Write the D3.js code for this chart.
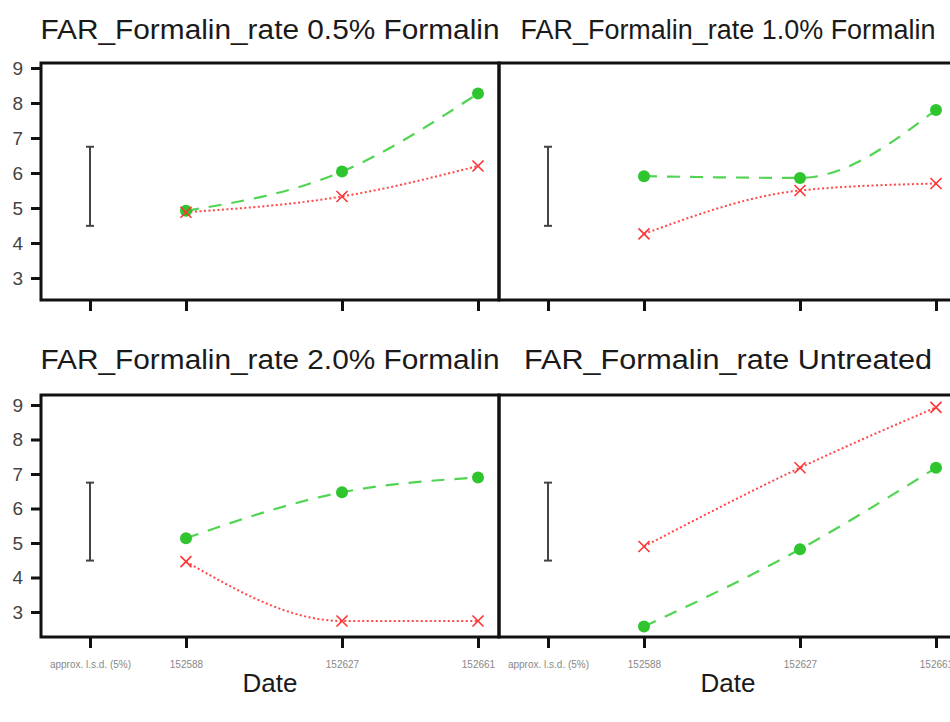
<!DOCTYPE html>
<html>
<head>
<meta charset="utf-8">
<script src="https://cdn.jsdelivr.net/npm/d3@7"></script>
<style>
  body { margin: 0; background: #fff; }
  svg { display: block; font-family: 'Liberation Sans', Arial, sans-serif; }
</style>
</head>
<body>
<div id="chart"></div>
<script>
// data
let titles = [
  'FAR_Formalin_rate 0.5% Formalin',
  'FAR_Formalin_rate 1.0% Formalin',
  'FAR_Formalin_rate 2.0% Formalin',
  'FAR_Formalin_rate Untreated'
]
let dates = [152588, 152627, 152661]
let dateLabels = ['152588', '152627', '152661']
let lsdDate = 152564
let lsdLabel = 'approx. l.s.d. (5%)'
let lsdLow = 4.49
let lsdHigh = 6.75
let yTicks = [3, 4, 5, 6, 7, 8, 9]

let greenVals = [
  [4.92, 6.04, 8.27],
  [5.91, 5.86, 7.8],
  [5.14, 6.47, 6.9],
  [2.58, 4.82, 7.18]
]
let redVals = [
  [4.88, 5.33, 6.2],
  [4.26, 5.5, 5.7],
  [4.46, 2.74, 2.74],
  [4.9, 7.18, 8.93]
]

let width = 950
let height = 722

let svg = d3
  .select('#chart')
  .append('svg')
  .attr('width', width)
  .attr('height', height)

// panel geometry (right column runs past the picture edge, as in the original)
let cols = [{ left: 41, right: 499 }, { left: 499, right: 957 }]
let rows = [
  { top: 63, bottom: 300, y9: 68, y3: 278, titleY: 39, labels: false },
  { top: 395, bottom: 637, y9: 405, y3: 612, titleY: 369, labels: true }
]
let titleWidths = [459, 415, 459, 408]

let green = '#33cc33'
let red = '#ff3333'

titles.forEach((title, i) => {
  let col = cols[i % 2]
  let row = rows[Math.floor(i / 2)]

  let x = d3
    .scaleLinear()
    .domain([dates[0], dates[2]])
    .range([col.left + 145, col.left + 437])

  let y = d3
    .scaleLinear()
    .domain([3, 9])
    .range([row.y3, row.y9])

  let g = svg.append('g')

  // title
  g.append('text')
    .attr('x', (col.left + col.right) / 2)
    .attr('y', row.titleY)
    .attr('text-anchor', 'middle')
    .attr('font-size', 27)
    .attr('fill', '#1a1a1a')
    .attr('textLength', titleWidths[i])
    .attr('lengthAdjust', 'spacingAndGlyphs')
    .text(title)

  // y axis only on left column
  if (i % 2 === 0) {
    let yAxis = g
      .append('g')
      .attr('transform', 'translate(' + col.left + ',0)')
      .call(
        d3.axisLeft(y)
          .tickValues(yTicks)
          .tickFormat(d3.format('d'))
          .tickSize(10)
          .tickPadding(8)
      )
    yAxis.select('.domain').remove()
    yAxis.selectAll('line').attr('stroke', '#111').attr('stroke-width', 3)
    yAxis
      .selectAll('text')
      .attr('font-size', 19)
      .attr('fill', '#444')
      .attr('font-family', 'Liberation Sans, Arial, sans-serif')
  }

  // x axis
  let xAxis = g
    .append('g')
    .attr('transform', 'translate(0,' + row.bottom + ')')
    .call(
      d3
        .axisBottom(x)
        .tickValues([lsdDate].concat(dates))
        .tickFormat((d, k) => (row.labels ? (k === 0 ? lsdLabel : dateLabels[k - 1]) : ''))
        .tickSize(11)
        .tickPadding(13)
    )
  xAxis.select('.domain').remove()
  xAxis.selectAll('line').attr('stroke', '#111').attr('stroke-width', 3)
  xAxis
    .selectAll('text')
    .attr('font-size', 10)
    .attr('fill', '#888')
    .attr('font-family', 'Liberation Sans, Arial, sans-serif')

  // frame
  g.append('rect')
    .attr('x', col.left)
    .attr('y', row.top)
    .attr('width', col.right - col.left)
    .attr('height', row.bottom - row.top)
    .attr('fill', 'none')
    .attr('stroke', '#111')
    .attr('stroke-width', 3)

  // lsd bar
  let lx = x(lsdDate)
  g.append('line')
    .attr('x1', lx).attr('x2', lx)
    .attr('y1', y(lsdLow)).attr('y2', y(lsdHigh))
    .attr('stroke', '#444').attr('stroke-width', 2)
  ;[lsdLow, lsdHigh].forEach(v => {
    g.append('line')
      .attr('x1', lx - 4).attr('x2', lx + 4)
      .attr('y1', y(v)).attr('y2', y(v))
      .attr('stroke', '#444').attr('stroke-width', 2)
  })

  let line = d3
    .line()
    .x((d, k) => x(dates[k]))
    .y(d => y(d))
    .curve(d3.curveMonotoneX)

  // green dashed series
  g.append('path')
    .datum(greenVals[i])
    .attr('d', line)
    .attr('fill', 'none')
    .attr('stroke', green)
    .attr('stroke-opacity', 0.85)
    .attr('stroke-width', 2.2)
    .attr('stroke-dasharray', '13,10')

  // red dotted series
  g.append('path')
    .datum(redVals[i])
    .attr('d', line)
    .attr('fill', 'none')
    .attr('stroke', red)
    .attr('stroke-opacity', 0.9)
    .attr('stroke-width', 2)
    .attr('stroke-dasharray', '2,2.5')

  g.selectAll('.dot')
    .data(greenVals[i])
    .enter()
    .append('circle')
    .attr('cx', (d, k) => x(dates[k]))
    .attr('cy', d => y(d))
    .attr('r', 6)
    .attr('fill', '#2ec52e')

  g.selectAll('.cross')
    .data(redVals[i])
    .enter()
    .append('path')
    .attr('d', (d, k) => {
      let cx = x(dates[k])
      let cy = y(d)
      let s = 5.5
      return 'M' + (cx - s) + ',' + (cy - s) + 'L' + (cx + s) + ',' + (cy + s) +
        'M' + (cx - s) + ',' + (cy + s) + 'L' + (cx + s) + ',' + (cy - s)
    })
    .attr('stroke', red)
    .attr('stroke-width', 1.6)
    .attr('fill', 'none')

  // x axis title
  if (row.labels) {
    g.append('text')
      .attr('x', (col.left + col.right) / 2)
      .attr('y', 692)
      .attr('text-anchor', 'middle')
      .attr('font-size', 26)
      .attr('fill', '#1a1a1a')
      .text('Date')
  }
})
</script>
</body>
</html>
